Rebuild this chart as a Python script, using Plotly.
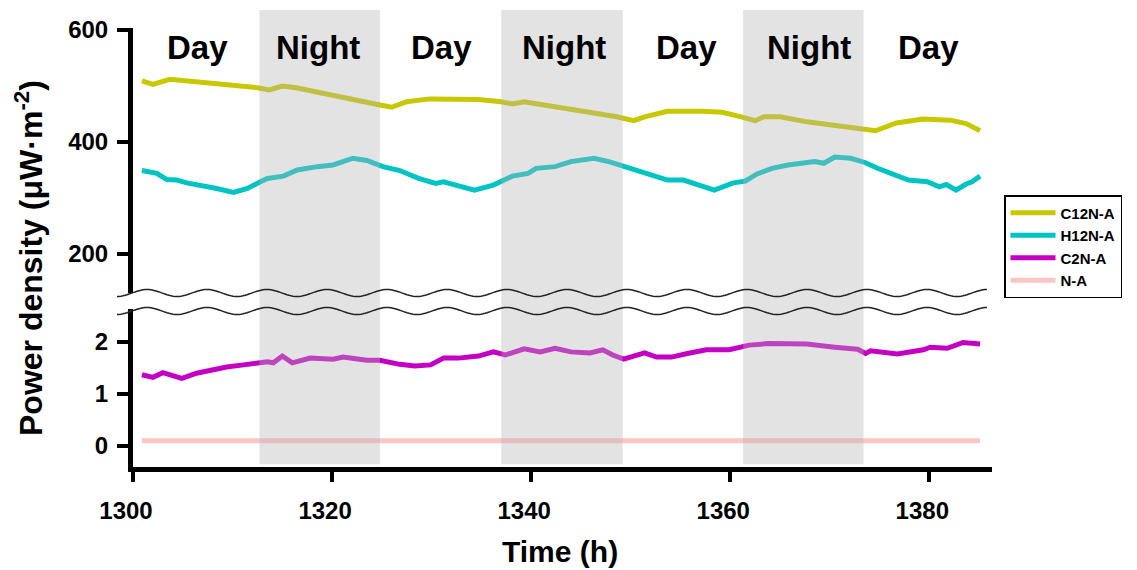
import numpy as np
import plotly.graph_objects as go

# ---------------- data ----------------
c12_t = [1300.9, 1302.0, 1303.7, 1306.7, 1309.7, 1312.5, 1313.7, 1315.0, 1316.4, 1319.7,
         1323.0, 1324.8, 1326.0, 1327.5, 1329.8, 1331.9, 1334.7, 1337.0, 1338.1, 1339.3,
         1342.4, 1345.5, 1348.6, 1350.3, 1351.4, 1353.7, 1357.2, 1359.2, 1361.1, 1362.5,
         1363.4, 1365.0, 1367.7, 1370.9, 1373.6, 1374.6, 1376.7, 1379.4, 1382.1, 1383.7, 1385.1]
c12_v = [509, 503, 512, 507, 502, 497, 493, 500, 497, 484,
         472, 466, 462, 472, 477, 477, 476, 472, 468, 472,
         464, 454, 445, 438, 445, 455, 455, 453, 445, 438,
         445, 445, 436, 429, 421, 420, 434, 441, 439, 433, 420]

h12_t = [1300.9, 1302.4, 1303.4, 1304.4, 1305.4, 1306.7, 1308.4, 1310.1, 1311.5, 1312.8,
         1313.5, 1315.1, 1316.5, 1318.5, 1320.1, 1322.1, 1323.5, 1325.1, 1326.8, 1328.7,
         1330.4, 1331.2, 1332.7, 1334.3, 1336.2, 1338.1, 1339.7, 1340.5, 1342.4, 1344.0,
         1346.3, 1347.8, 1349.4, 1351.0, 1353.7, 1355.3, 1358.4, 1360.3, 1361.5, 1362.7,
         1364.2, 1365.8, 1368.5, 1369.4, 1370.5, 1372.1, 1373.6, 1374.8, 1376.7, 1377.9,
         1379.8, 1381.0, 1381.7, 1382.7, 1383.7, 1384.3, 1385.1]
h12_v = [349, 344, 333, 332, 327, 323, 317, 310, 317, 329,
         335, 339, 350, 356, 359, 371, 367, 356, 349, 335,
         326, 329, 321, 314, 323, 339, 344, 353, 356, 365,
         371, 365, 356, 347, 332, 332, 314, 327, 330, 343,
         353, 359, 365, 362, 373, 371, 363, 353, 341, 332,
         329, 320, 324, 314, 325, 329, 339]

c2_t = [1300.9, 1302.0, 1303.0, 1304.0, 1304.9, 1306.4, 1307.7, 1309.4, 1311.1, 1312.5,
        1313.5, 1314.1, 1315.0, 1316.0, 1317.8, 1320.1, 1321.1, 1323.5, 1324.8, 1326.8,
        1328.3, 1329.9, 1331.2, 1332.7, 1334.7, 1336.2, 1337.4, 1339.3, 1340.9, 1342.4,
        1344.0, 1345.9, 1347.2, 1348.2, 1349.3, 1350.3, 1351.4, 1352.6, 1354.1, 1355.7,
        1357.6, 1359.9, 1360.7, 1361.9, 1363.8, 1367.7, 1370.5, 1372.8, 1373.6, 1374.1,
        1376.8, 1379.4, 1380.1, 1381.8, 1383.4, 1385.1]
c2_v = [1.37, 1.32, 1.41, 1.35, 1.30, 1.40, 1.45, 1.52, 1.56, 1.59,
        1.62, 1.60, 1.73, 1.60, 1.69, 1.67, 1.71, 1.65, 1.65, 1.57,
        1.54, 1.56, 1.69, 1.69, 1.73, 1.81, 1.75, 1.87, 1.81, 1.88,
        1.81, 1.79, 1.85, 1.75, 1.67, 1.73, 1.79, 1.71, 1.71, 1.78,
        1.85, 1.85, 1.88, 1.94, 1.97, 1.96, 1.90, 1.86, 1.78, 1.83,
        1.77, 1.85, 1.90, 1.88, 1.99, 1.96]

na_t = [1300.9, 1320.0, 1340.0, 1360.0, 1385.1]
na_v = [0.10, 0.10, 0.10, 0.10, 0.10]

night_start = [1312.7, 1337.0, 1361.3]
night_end = [1324.8, 1349.2, 1373.4]

period_labels = ["Day", "Night", "Day", "Night", "Day", "Night", "Day"]
period_centers = [1306.5, 1318.6, 1331.0, 1343.3, 1355.6, 1367.9, 1379.9]

x_ticks = [1300, 1320, 1340, 1360, 1380]
upper_ticks = [200, 400, 600]
lower_ticks = [0, 1, 2]

# ---------------- layout constants (pixels, in screenshot coordinates) ----------------
OFF = 8                      # page body margin offset of the plot div
W, H = 1137 - OFF, 570 - OFF
L_S, R_S, T_S, B_S = 133, 992, 10, 467     # plot area edges in screenshot pixels
L, R_EDGE, T, B_EDGE = L_S - OFF, R_S - OFF, T_S - OFF, B_S - OFF
PW, PH = R_EDGE - L, B_EDGE - T


def px_x(p):
    return (p - OFF - L) / PW


def px_y(p):
    return (B_EDGE - (p - OFF)) / PH


FONT = "Arial, Liberation Sans, sans-serif"
COL = {"C12N-A": "#C8C800", "H12N-A": "#00C4C4", "C2N-A": "#C400C4", "N-A": "#FFC4C4"}

fig = go.Figure()
fig.add_trace(go.Scatter(x=c12_t, y=c12_v, name="C12N-A", mode="lines",
                         line=dict(color=COL["C12N-A"], width=5), xaxis="x", yaxis="y"))
fig.add_trace(go.Scatter(x=h12_t, y=h12_v, name="H12N-A", mode="lines",
                         line=dict(color=COL["H12N-A"], width=5), xaxis="x", yaxis="y"))
fig.add_trace(go.Scatter(x=c2_t, y=c2_v, name="C2N-A", mode="lines",
                         line=dict(color=COL["C2N-A"], width=5), xaxis="x", yaxis="y2"))
fig.add_trace(go.Scatter(x=na_t, y=na_v, name="N-A", mode="lines",
                         line=dict(color=COL["N-A"], width=5), xaxis="x", yaxis="y2"))

shapes = []
for s, e in zip(night_start, night_end):
    shapes.append(dict(type="rect", xref="x", yref="paper", x0=s, x1=e, y0=0.006, y1=1.0,
                       fillcolor="rgb(180,180,180)", opacity=0.373, line=dict(width=0),
                       layer="above"))

# wavy axis-break lines
wx = np.arange(117, 989, 2.0)
for base in (293, 311):
    wy = base + 3.5 * np.sin(2 * np.pi * (wx - 117) / 60.0 + np.pi / 2)
    path = "M " + " L ".join(f"{px_x(a):.5f},{px_y(b):.5f}" for a, b in zip(wx, wy))
    shapes.append(dict(type="path", xref="paper", yref="paper", path=path,
                       line=dict(color="#222222", width=1.5), layer="above"))

annotations = []
for lab, c in zip(period_labels, period_centers):
    annotations.append(dict(x=c, y=px_y(47), xref="x", yref="paper", text=lab,
                            showarrow=False,
                            font=dict(family=FONT, size=33, color="black", weight="bold"),
                            xanchor="center", yanchor="middle"))
annotations.append(dict(x=px_x(29), y=px_y(258), xref="paper", yref="paper",
                        text="Power density (μW·m<sup>-2</sup>)", textangle=-90,
                        showarrow=False,
                        font=dict(family=FONT, size=32, color="black", weight="bold"),
                        xanchor="center", yanchor="middle"))
annotations.append(dict(x=px_x(560), y=px_y(551), xref="paper", yref="paper",
                        text="Time (h)", showarrow=False,
                        font=dict(family=FONT, size=30, color="black", weight="bold"),
                        xanchor="center", yanchor="middle"))

axis_common = dict(showline=True, linecolor="black", linewidth=5, ticks="outside",
                   tickwidth=4, tickcolor="black", showgrid=False, zeroline=False,
                   automargin=False,
                   tickfont=dict(family=FONT, size=24, color="black", weight="bold"))

fig.update_layout(
    width=W, height=H,
    margin=dict(l=L, r=W - R_EDGE, t=T, b=H - B_EDGE, autoexpand=False),
    paper_bgcolor="white", plot_bgcolor="white",
    xaxis=dict(range=[1300, 1386.3], tickvals=x_ticks,
               anchor="y2", ticklen=10, ticklabelstandoff=8, ticklabelshift=-7,
               **axis_common),
    yaxis=dict(domain=[px_y(293), px_y(28)], range=[600 - (293 - 30) / 0.56, 600 + 2 / 0.56],
               tickvals=upper_ticks, anchor="x", ticklen=11, ticklabelstandoff=4,
               **axis_common),
    yaxis2=dict(domain=[0, px_y(309)], range=[-(467 - 446) / 52.0, (446 - 309) / 52.0],
                tickvals=lower_ticks, anchor="x", ticklen=11, ticklabelstandoff=4,
                **axis_common),
    shapes=shapes,
    annotations=annotations,
    showlegend=True,
    legend=dict(x=px_x(1004), y=px_y(195), xanchor="left", yanchor="top",
                bordercolor="black", borderwidth=1.5, bgcolor="white",
                font=dict(family=FONT, size=15, color="black", weight="bold"),
                tracegroupgap=0, itemwidth=45, traceorder="normal"),
)

fig.write_html("out.html")
